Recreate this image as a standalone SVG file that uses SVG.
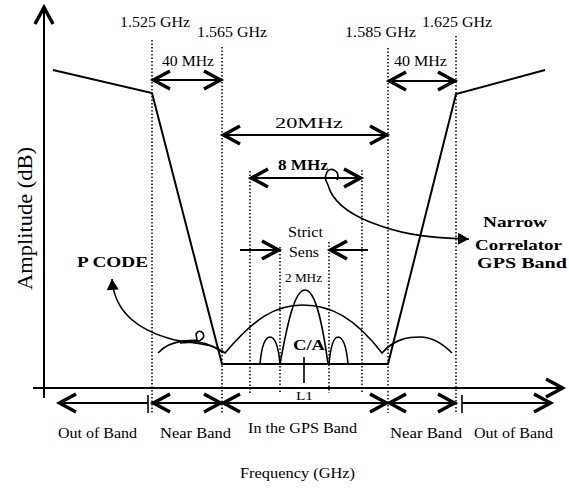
<svg xmlns="http://www.w3.org/2000/svg" width="569" height="488" viewBox="0 0 569 488">
<defs>
<marker id="chev" markerUnits="userSpaceOnUse" viewBox="-22 -12 26 24" markerWidth="26" markerHeight="24" refX="0" refY="0" orient="auto-start-reverse" overflow="visible">
<path d="M-18,-9 L-1.5,0 L-18,9" fill="none" stroke="#000" stroke-width="3.5" stroke-linejoin="miter"/>
</marker>
<marker id="tri" markerUnits="userSpaceOnUse" viewBox="-12 -7 14 14" markerWidth="14" markerHeight="14" refX="0" refY="0" orient="auto" overflow="visible">
<path d="M0,0 L-11,-6 L-11,6 Z" fill="#000"/>
</marker>
<style>
text{font-family:"Liberation Serif","Times New Roman",serif;fill:#000}
.t{font-size:14px}
.b{font-size:14px;font-weight:bold}
.lbl{font-size:15px}
.dot{stroke:#000;stroke-width:1.5;stroke-dasharray:1.5 2;fill:none}
.ln{stroke:#000;stroke-width:2;fill:none}
.thin{stroke:#000;stroke-width:1.6;fill:none}
.arr{stroke:#000;stroke-width:1.8;fill:none;marker-end:url(#chev)}
.arr2{stroke:#000;stroke-width:1.8;fill:none;marker-start:url(#chev);marker-end:url(#chev)}
</style>
</defs>
<rect width="569" height="488" fill="#fff"/>

<g id="axes">
<line class="ln" x1="44" y1="398" x2="44" y2="6" style="marker-end:url(#chev)"/>
<line class="ln" x1="33" y1="388" x2="564" y2="388" style="marker-end:url(#chev)"/>
<text transform="translate(32,218.5) rotate(-90)" text-anchor="middle" font-size="21" textLength="143" lengthAdjust="spacingAndGlyphs">Amplitude (dB)</text>
<text class="t" x="240" y="478" textLength="115" lengthAdjust="spacingAndGlyphs">Frequency (GHz)</text>
</g>

<g id="gridlines">
<line class="dot" x1="152" y1="40" x2="152" y2="413"/>
<line class="dot" x1="222" y1="47" x2="222" y2="413"/>
<line class="dot" x1="388" y1="48" x2="388" y2="413"/>
<line class="dot" x1="456" y1="36" x2="456" y2="413"/>
<line class="dot" x1="250" y1="171" x2="250" y2="395"/>
<line class="dot" x1="362" y1="170" x2="362" y2="393"/>
<line class="dot" x1="280" y1="247" x2="280" y2="393"/>
<line class="dot" x1="329" y1="242" x2="329" y2="393"/>
</g>

<g id="freq-labels">
<text class="t" x="120" y="27" textLength="70" lengthAdjust="spacingAndGlyphs">1.525 GHz</text>
<text class="t" x="197" y="37" textLength="70" lengthAdjust="spacingAndGlyphs">1.565 GHz</text>
<text class="t" x="345" y="37" textLength="71" lengthAdjust="spacingAndGlyphs">1.585 GHz</text>
<text class="t" x="422" y="27" textLength="70" lengthAdjust="spacingAndGlyphs">1.625 GHz</text>
</g>

<g id="filter">
<polyline class="ln" points="53,70 152,93 222,364 388,364 456,94 545,70"/>
</g>

<g id="pcode-spectrum">
<path class="thin" d="M158,353 C170,340 195,335 222,351 L225,353 C255,318 275,305 303,305 C331,305 355,318 382,353 C395,338 410,337 420,337 C432,337 442,343 452,353"/>
<path class="thin" d="M182,341 L197,340 L196,334 Q199,329 203,333 Q206,339 196,342 L180,343"/>
</g>

<g id="ca-spectrum">
<path class="thin" d="M280,364 C288,320 295,290 305,290 C315,290 322,320 328,364"/>
<path class="thin" d="M260,364 C262,342 266,337 270,337 C274,337 278,342 280,364"/>
<path class="thin" d="M329,364 C331,342 335,337 338,337 C342,337 346,342 348,364"/>
<line class="thin" x1="304" y1="357" x2="304" y2="383"/>
<text class="b" x="293" y="350" font-size="15" textLength="32" lengthAdjust="spacingAndGlyphs">C/A</text>
<text x="296" y="400" font-size="13" textLength="17" lengthAdjust="spacingAndGlyphs">L1</text>
</g>

<g id="connectors">
<line class="arr2" x1="152" y1="80" x2="222" y2="80"/>
<line class="arr2" x1="388" y1="81" x2="456" y2="81"/>
<line class="arr2" x1="222" y1="135" x2="388" y2="135"/>
<line class="arr2" x1="250" y1="178" x2="362" y2="178"/>
<line class="arr" x1="240" y1="250" x2="280" y2="250"/>
<line class="arr" x1="368" y1="250" x2="329" y2="250"/>
<line class="arr" x1="148" y1="403" x2="58" y2="403"/>
<line class="thin" x1="148" y1="395" x2="148" y2="413"/>
<line class="arr2" x1="152" y1="403" x2="222" y2="403"/>
<line class="arr2" x1="222" y1="403" x2="388" y2="403"/>
<line class="arr2" x1="388" y1="403" x2="456" y2="403"/>
<line class="thin" x1="462" y1="395" x2="462" y2="413"/>
<line class="arr" x1="462" y1="403" x2="552" y2="403"/>
<path class="thin" d="M223,353 C210,342 195,344 175,340 C135,330 114,310 112,279" style="marker-end:url(#tri)"/>
<path class="thin" d="M337,180 C341,171 330,166 327,172 C324,178 326,181 328,185 C332,200 345,212 370,222 C395,232 420,238 469,239" style="marker-end:url(#tri)"/>
</g>

<g id="span-labels">
<text class="t" x="162" y="66" textLength="52" lengthAdjust="spacingAndGlyphs">40 MHz</text>
<text class="t" x="394" y="66" textLength="53" lengthAdjust="spacingAndGlyphs">40 MHz</text>
<text x="275" y="128" font-size="15" textLength="68" lengthAdjust="spacingAndGlyphs">20MHz</text>
<text class="b" x="278" y="170" font-size="15" textLength="50" lengthAdjust="spacingAndGlyphs">8 MHz</text>
<text class="t" x="288" y="237" textLength="35" lengthAdjust="spacingAndGlyphs">Strict</text>
<text class="t" x="289" y="257" textLength="30" lengthAdjust="spacingAndGlyphs">Sens</text>
<text x="285" y="282" font-size="13" textLength="37" lengthAdjust="spacingAndGlyphs">2 MHz</text>
</g>

<g id="pcode-label">
<text class="b" x="77" y="267" font-size="15" textLength="71" lengthAdjust="spacingAndGlyphs">P CODE</text>
</g>

<g id="narrow-label">
<text class="b" x="483" y="227" textLength="64" lengthAdjust="spacingAndGlyphs">Narrow</text>
<text class="b" x="475" y="250" textLength="87" lengthAdjust="spacingAndGlyphs">Correlator</text>
<text class="b" x="477" y="268" textLength="90" lengthAdjust="spacingAndGlyphs">GPS Band</text>
</g>

<g id="band-labels">
<text class="lbl" x="58" y="438" textLength="79" lengthAdjust="spacingAndGlyphs">Out of Band</text>
<text class="lbl" x="160" y="438" textLength="71" lengthAdjust="spacingAndGlyphs">Near Band</text>
<text class="lbl" x="248" y="433" textLength="109" lengthAdjust="spacingAndGlyphs">In the GPS Band</text>
<text class="lbl" x="390" y="438" textLength="72" lengthAdjust="spacingAndGlyphs">Near Band</text>
<text class="lbl" x="474" y="438" textLength="79" lengthAdjust="spacingAndGlyphs">Out of Band</text>
</g>
</svg>
